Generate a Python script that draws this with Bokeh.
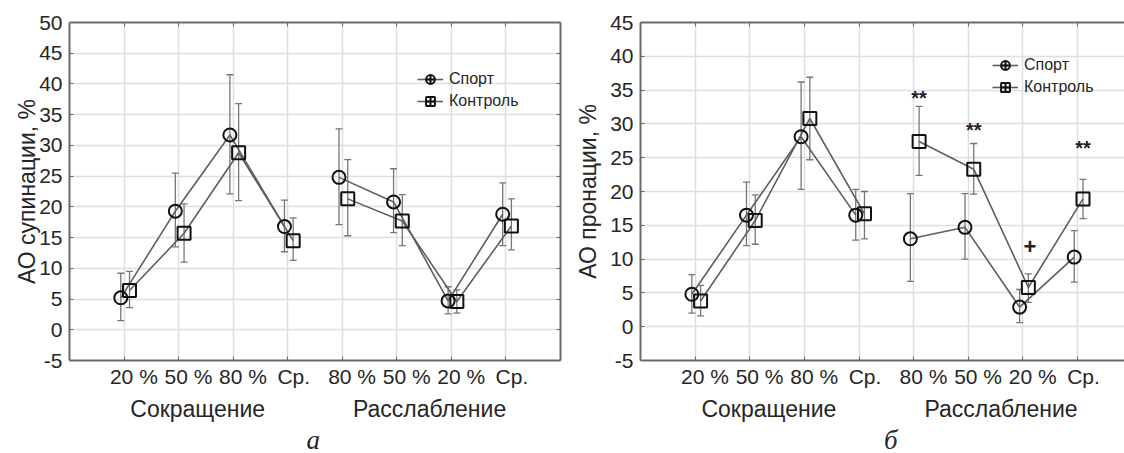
from bokeh.plotting import figure
from bokeh.models import (ColumnDataSource, Whisker, TeeHead, FixedTicker, LinearAxis,
                          Range1d, Legend, LegendItem)
from bokeh.layouts import row, column
from bokeh.embed import file_html
from bokeh.resources import INLINE
from bokeh.core.properties import value

# ---------------- data ----------------
categories = ["20 %", "50 %", "80 %", "Ср.", "80 %", "50 %", "20 %", "Ср."]
groups = ["Сокращение", "Расслабление"]
series = ["Спорт", "Контроль"]
panel_letters = ["а", "б"]

sup_sport = [5.2, 19.3, 31.7, 16.8, 24.8, 20.8, 4.7, 18.8]
sup_sport_lo = [1.5, 13.5, 22.1, 12.7, 17.1, 15.8, 2.6, 13.7]
sup_sport_hi = [9.2, 25.5, 41.5, 21.1, 32.7, 26.2, 7.0, 23.9]
sup_ctrl = [6.4, 15.7, 28.8, 14.5, 21.3, 17.7, 4.6, 16.9]
sup_ctrl_lo = [3.6, 11.0, 21.0, 11.3, 15.3, 13.7, 2.7, 13.0]
sup_ctrl_hi = [9.5, 20.5, 36.8, 18.2, 27.7, 22.0, 6.5, 21.3]

pro_sport = [4.8, 16.5, 28.1, 16.5, 13.0, 14.7, 2.9, 10.3]
pro_sport_lo = [2.0, 12.0, 20.3, 12.8, 6.7, 10.0, 0.6, 6.6]
pro_sport_hi = [7.7, 21.4, 36.2, 20.3, 19.7, 19.7, 5.5, 14.2]
pro_ctrl = [3.8, 15.7, 30.8, 16.7, 27.4, 23.3, 5.8, 18.9]
pro_ctrl_lo = [1.6, 12.2, 24.7, 13.0, 22.4, 19.6, 3.6, 16.0]
pro_ctrl_hi = [6.1, 19.5, 36.9, 20.0, 32.6, 27.1, 7.8, 21.8]

# significance marks (right panel): category index and y value
sig_star_idx = [4, 5, 7]
sig_star_y = [33.8, 29.1, 26.4]
sig_plus_idx = [6]
sig_plus_y = [11.9]

FONT = "Liberation Sans"
TXT = "#262626"
GRID = "#dedede"
AXIS = "#6a6a6a"
LINE = "#5e5e5e"
ERR = "#777777"
MARK = "#111111"
DODGE_S = -0.06
DODGE_C = 0.10
MAIN_H = 424
LETTER_H = 29

xs = [i + 1 for i in range(len(categories))]
# label placement (labels sit slightly right of their ticks in the original)
lab_pos = [x + (0.11 if c.startswith("Ср") else 0.18) for x, c in zip(xs, categories)]


def tick_only_axis(ticks):
    return LinearAxis(ticker=FixedTicker(ticks=ticks), axis_line_color=AXIS, axis_line_width=2,
                      major_tick_in=4, major_tick_out=0, major_tick_line_color=AXIS,
                      minor_tick_line_color=None, major_label_text_color=None,
                      major_label_text_font_size="1px", major_label_standoff=0)


def text_axis(ticks, labels, standoff, font, size, style="normal"):
    return LinearAxis(ticker=FixedTicker(ticks=ticks),
                      major_label_overrides={t: l for t, l in zip(ticks, labels)},
                      axis_line_color=None, major_tick_line_color=None,
                      minor_tick_line_color=None, major_tick_in=0, major_tick_out=0,
                      major_label_standoff=standoff, major_label_text_font=font,
                      major_label_text_font_size=size, major_label_text_font_style=style,
                      major_label_text_color=TXT)


def make_panel(ylabel, y_start, y_end, data, width, bl, br, x_range, y_standoff, legend_xy):
    sport, s_lo, s_hi, ctrl, c_lo, c_hi = data
    p = figure(width=width, height=MAIN_H, output_backend="svg", toolbar_location=None,
               x_range=x_range, y_range=Range1d(y_start, y_end),
               min_border_left=bl, min_border_right=br, min_border_top=22,
               min_border_bottom=MAIN_H - 361)
    p.title = None
    p.outline_line_color = None
    p.background_fill_color = "white"
    p.border_fill_color = "white"

    yt = list(range(y_start, y_end + 1, 5))
    # primary x axis: line + inner ticks only
    xa = p.xaxis[0]
    xa.ticker = FixedTicker(ticks=xs)
    xa.major_label_text_color = None
    xa.major_label_text_font_size = "1px"
    xa.major_label_standoff = 0
    ya = p.yaxis[0]
    ya.ticker = FixedTicker(ticks=yt)
    ya.major_label_overrides = {t: str(t) for t in yt}
    for ax in (xa, ya):
        ax.axis_line_color = AXIS
        ax.axis_line_width = 2
        ax.major_tick_in = 4
        ax.major_tick_out = 0
        ax.major_tick_line_color = AXIS
        ax.minor_tick_line_color = None
    ya.major_label_text_font = FONT
    ya.major_label_text_font_size = "21px"
    ya.major_label_text_color = TXT
    ya.major_label_standoff = 7
    ya.axis_label = ylabel
    ya.axis_label_text_font = FONT
    ya.axis_label_text_font_size = "23px"
    ya.axis_label_text_font_style = "normal"
    ya.axis_label_text_color = TXT
    ya.axis_label_standoff = y_standoff

    # category labels and group labels
    p.add_layout(text_axis(lab_pos, categories, 4, FONT, "21px"), "below")
    p.add_layout(text_axis([2.35, 6.6], groups, 5, FONT, "23px"), "below")

    # top frame line with inner ticks
    p.add_layout(tick_only_axis(xs), "above")

    p.xgrid.ticker = FixedTicker(ticks=xs)
    p.ygrid.ticker = FixedTicker(ticks=yt)
    p.grid.grid_line_color = GRID
    p.grid.grid_line_width = 1.5

    xs_s = [x + DODGE_S for x in xs]
    xs_c = [x + DODGE_C for x in xs]
    src_s = ColumnDataSource(dict(x=xs_s, y=sport, lo=s_lo, hi=s_hi))
    src_c = ColumnDataSource(dict(x=xs_c, y=ctrl, lo=c_lo, hi=c_hi))

    for src in (src_s, src_c):
        w = Whisker(source=src, base="x", lower="lo", upper="hi", line_color=ERR,
                    line_width=1.3,
                    lower_head=TeeHead(size=7, line_color=ERR, line_width=1.3),
                    upper_head=TeeHead(size=7, line_color=ERR, line_width=1.3))
        p.add_layout(w)

    lines = {}
    for name, xx, yy in ((series[0], xs_s, sport), (series[1], xs_c, ctrl)):
        rs = []
        for a, b in ((0, 4), (4, 8)):
            rs.append(p.line(xx[a:b], yy[a:b], line_color=LINE, line_width=1.6))
        lines[name] = rs

    p.scatter("x", "y", source=src_s, marker="circle", size=13, fill_alpha=0,
              line_color=MARK, line_width=2)
    p.scatter("x", "y", source=src_c, marker="square", size=13, fill_alpha=0,
              line_color=MARK, line_width=2)

    # legend-only glyphs (hidden in the plot area, drawn in the legend)
    lg_s = p.scatter("x", "y", source=src_s, marker="circle_cross", size=13,
                     fill_alpha=0, line_color=MARK, line_width=2, visible=False)
    lg_c = p.scatter("x", "y", source=src_c, marker="square_cross", size=13,
                     fill_alpha=0, line_color=MARK, line_width=2, visible=False)
    leg = Legend(items=[LegendItem(label=series[0], renderers=[lines[series[0]][0], lg_s]),
                        LegendItem(label=series[1], renderers=[lines[series[1]][0], lg_c])],
                 location=legend_xy, glyph_width=26, glyph_height=22, spacing=0,
                 padding=0, margin=0, border_line_color=None, background_fill_alpha=0,
                 label_text_font=FONT, label_text_font_size="16px",
                 label_text_color=TXT, label_standoff=6, label_height=22,
                 click_policy="none")
    p.add_layout(leg, "center")
    return p


def letter_fig(width, bl, br, x_range, letter, letter_x):
    f = figure(width=width, height=LETTER_H, output_backend="svg", toolbar_location=None,
               x_range=x_range, y_range=Range1d(0, LETTER_H),
               min_border_left=bl, min_border_right=br, min_border_top=0,
               min_border_bottom=0)
    f.title = None
    f.axis.visible = False
    f.grid.visible = False
    f.outline_line_color = None
    f.text([letter_x], [14], text=[letter], text_font=value("Liberation Serif"),
           text_font_style="italic", text_font_size="27px", text_color=TXT,
           text_align="center", text_baseline="middle")
    return f


xr1 = Range1d(0, 9)
xr2 = Range1d(0, 8.86)

p1 = make_panel("АО супинации, %", -5, 50,
                (sup_sport, sup_sport_lo, sup_sport_hi, sup_ctrl, sup_ctrl_lo, sup_ctrl_hi),
                570, 69, 10, xr1, -4, (348, 248))
p1.add_layout(tick_only_axis(list(range(-5, 51, 5))), "right")

p2 = make_panel("АО пронации, %", -5, 45,
                (pro_sport, pro_sport_lo, pro_sport_hi, pro_ctrl, pro_ctrl_lo, pro_ctrl_hi),
                554, 70, 0, xr2, 6, (352, 262))
p2.text([xs[i] + 0.1 for i in sig_star_idx], sig_star_y, text=["**"] * len(sig_star_idx),
        text_font=value(FONT), text_font_size="20px", text_font_style="bold",
        text_color="#222222", text_align="center", text_baseline="middle")
p2.text([xs[i] + 0.13 for i in sig_plus_idx], sig_plus_y, text=["+"] * len(sig_plus_idx),
        text_font=value(FONT), text_font_size="22px", text_font_style="bold",
        text_color="#222222", text_align="center", text_baseline="middle")

l1 = letter_fig(570, 69, 10, xr1, panel_letters[0], 4.47)
l2 = letter_fig(554, 70, 0, xr2, panel_letters[1], 4.58)

layout = column(row(p1, p2), row(l1, l2))
open("out.html", "w").write(file_html(layout, INLINE))
